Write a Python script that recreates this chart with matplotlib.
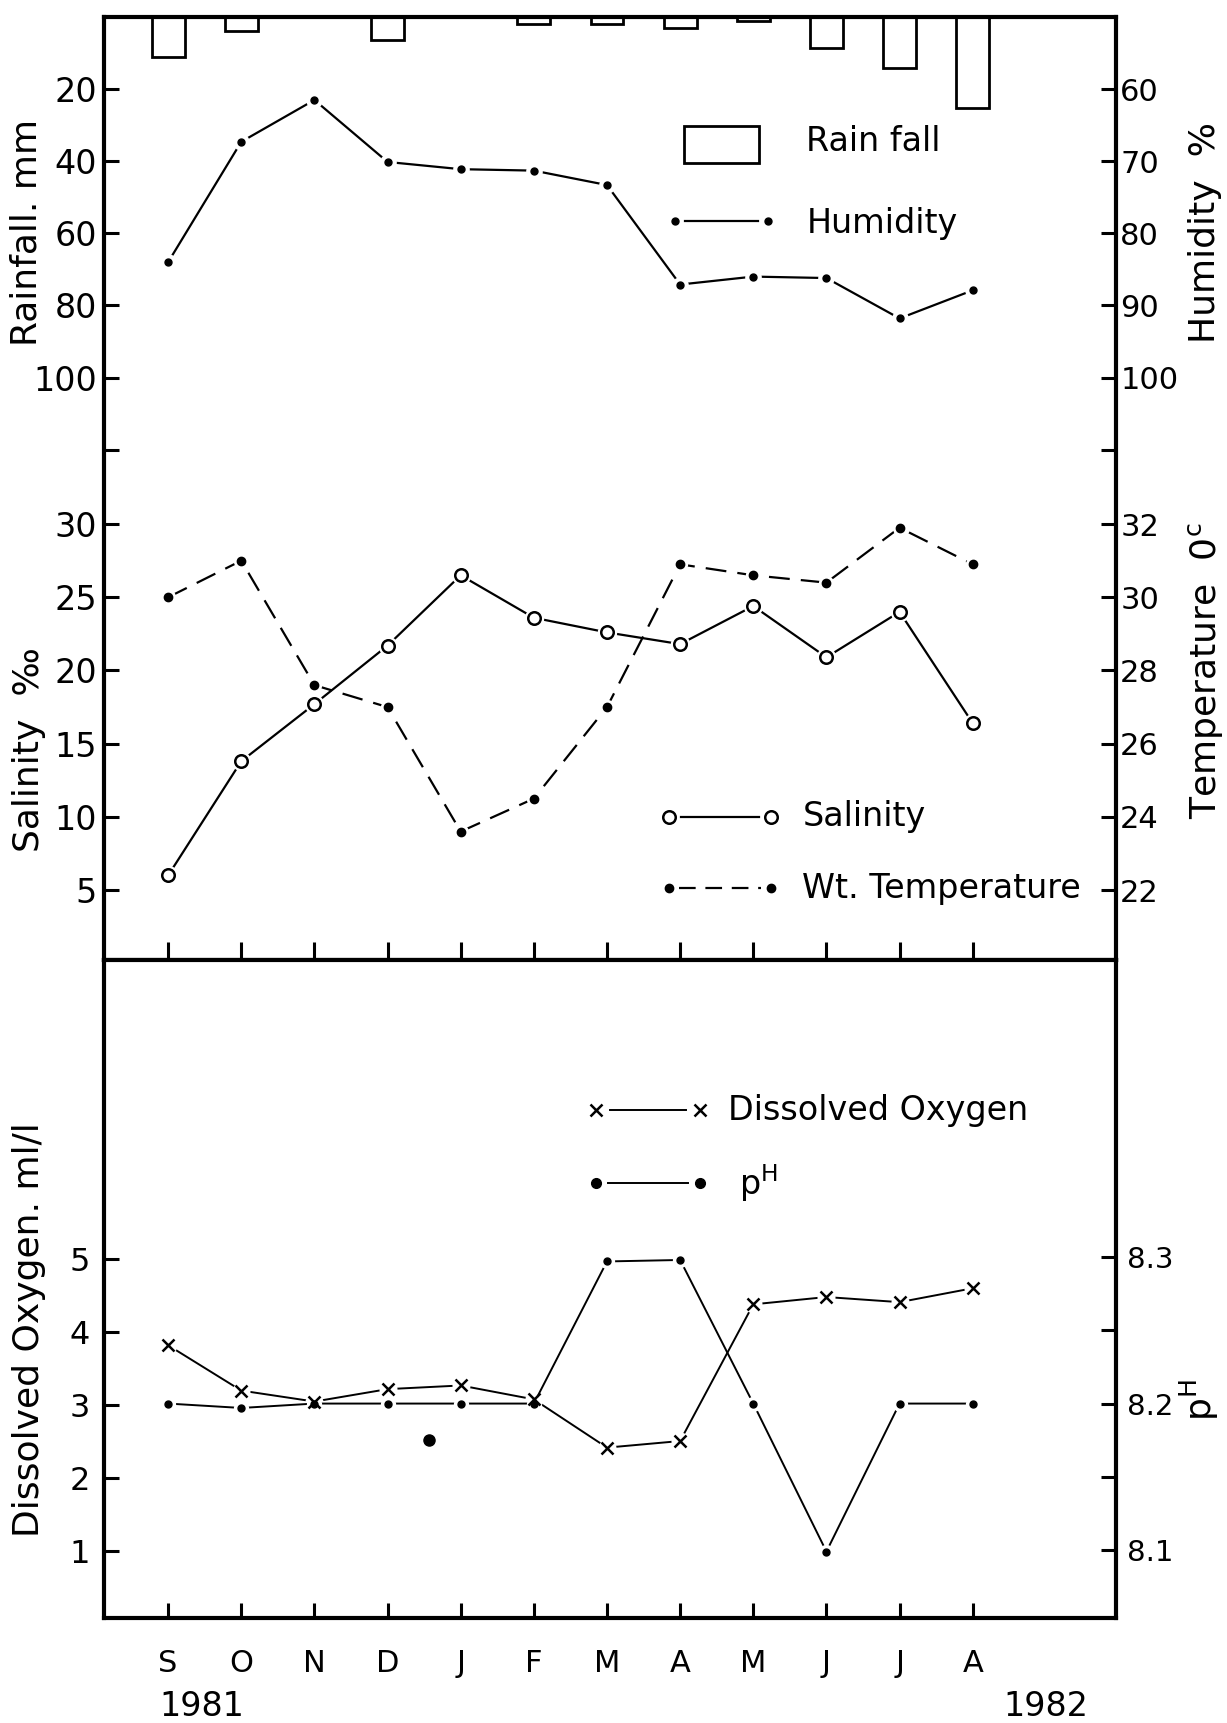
import matplotlib
matplotlib.use("Agg")
import matplotlib.pyplot as plt
import matplotlib.transforms as mtransforms
from matplotlib.patches import Rectangle
import numpy as np

plt.rcParams['font.family'] = ['DejaVu Sans']
plt.rcParams['mathtext.default'] = 'regular'
plt.rcParams['lines.scale_dashes'] = False

# monthly values, Sep 1981 - Aug 1982
months = ['S', 'O', 'N', 'D', 'J', 'F', 'M', 'A', 'M', 'J', 'J', 'A']
rainfall = [11, 4, 0, 6.3, 0, 2, 2, 3, 1, 8.7, 14.2, 25.2]
humidity = [84, 67.3, 61.5, 70.1, 71.1, 71.3, 73.3, 87.1, 86, 86.2, 91.8, 87.9]
salinity = [6, 13.8, 17.7, 21.7, 26.5, 23.6, 22.6, 21.8, 24.4, 20.9, 24, 16.4]
temperature = [30.0, 31.0, 27.6, 27.0, 23.6, 24.5, 27.0, 30.9, 30.6, 30.4, 31.9, 30.9]
oxygen = [3.82, 3.2, 3.05, 3.22, 3.27, 3.08, 2.42, 2.51, 4.38, 4.48, 4.41, 4.6]
ph = [8.2, 8.197, 8.2, 8.2, 8.2, 8.2, 8.297, 8.298, 8.2, 8.099, 8.2, 8.2]
ph_extra_x = [3.57]
ph_extra = [8.175]

rain_ticks = [20, 40, 60, 80, 100, 120]
rain_labels = ['20', '40', '60', '80', '100', '']
hum_ticks = [60, 70, 80, 90, 100, 110]
hum_labels = ['60', '70', '80', '90', '100', '']
sal_ticks = [5, 10, 15, 20, 25, 30]
temp_ticks = [22, 24, 26, 28, 30, 32]
do_ticks = [1, 2, 3, 4, 5]
ph_ticks = [8.1, 8.15, 8.2, 8.25, 8.3]
ph_labels = ['8.1', '', '8.2', '', '8.3']

x = np.arange(len(months))
SPINE = 3
YTICK = dict(direction='in', length=11, width=2.2)


def hide_spines(ax):
    for s in ax.spines.values():
        s.set_visible(False)


def gapped(ax, xs, ys, halo, **kw):
    # line with small breaks around each point, like the hand-drawn original
    ax.plot(xs, ys, color='k', zorder=2, **kw)
    ax.plot(xs, ys, 'o', color='white', ms=halo, mec='none', zorder=3)


def place_label(ax, text, xpos, ypos):
    ax.set_ylabel(text, fontsize=26, rotation=90, va='center', ha='center')
    ax.yaxis.set_label_coords(xpos, ypos)


fig = plt.figure(figsize=(12.27, 17.23), dpi=100)
ax_rain = fig.add_axes([0.0848, 0.4428, 0.8248, 0.5473])
ax_do = fig.add_axes([0.0848, 0.0609, 0.8248, 0.3819])

# ---------- upper panel: rainfall / humidity / salinity / temperature ----------
ax_rain.bar(x, rainfall, width=0.45, facecolor='white', edgecolor='k', lw=2, zorder=2)
ax_rain.set_xlim(-0.876, 12.96)
ax_rain.set_ylim(261.6, 0)
ax_rain.set_yticks(rain_ticks)
ax_rain.set_yticklabels(rain_labels)
ax_rain.tick_params(axis='y', labelsize=24, pad=5, **YTICK)
ax_rain.set_xticks(x)
ax_rain.tick_params(axis='x', direction='in', length=13, width=2.2, labelbottom=False)
for s in ax_rain.spines.values():
    s.set_linewidth(SPINE)
place_label(ax_rain, 'Rainfall. mm', -0.077, 0.772)

ax_hum = ax_rain.twinx()
hide_spines(ax_hum)
ax_hum.set_ylim(180.8, 50)
ax_hum.set_yticks(hum_ticks)
ax_hum.set_yticklabels(hum_labels)
ax_hum.tick_params(axis='y', labelsize=22, pad=3, **YTICK)
gapped(ax_hum, x, humidity, 12, lw=1.6)
ax_hum.plot(x, humidity, 'o', color='k', ms=5, zorder=4)
place_label(ax_hum, 'Humidity  %', 1.088, 0.772)

ax_sal = ax_rain.twinx()
hide_spines(ax_sal)
ax_sal.yaxis.tick_left()
ax_sal.yaxis.set_label_position('left')
ax_sal.set_ylim(0.22, 64.63)
ax_sal.set_yticks(sal_ticks)
ax_sal.tick_params(axis='y', labelsize=24, pad=5, **YTICK)
gapped(ax_sal, x, salinity, 14, lw=1.6)
ax_sal.plot(x, salinity, 'o', color='k', mfc='white', ms=9, mew=1.8, zorder=4)
place_label(ax_sal, 'Salinity  \u2030', -0.074, 0.223)

ax_temp = ax_rain.twinx()
hide_spines(ax_temp)
ax_temp.set_ylim(20.09, 45.85)
ax_temp.set_yticks(temp_ticks)
ax_temp.tick_params(axis='y', labelsize=22, pad=3, **YTICK)
gapped(ax_temp, x, temperature, 11, lw=1.6, ls=(0, (15, 8)))
ax_temp.plot(x, temperature, 'o', color='k', ms=6, zorder=4)
place_label(ax_temp, 'Temperature  0$^{c}$', 1.088, 0.307)

# legends, upper panel
ta = ax_rain.transAxes
ax_rain.add_patch(Rectangle((0.573, 0.845), 0.074, 0.040, transform=ta,
                            fill=False, lw=2, zorder=5))
ax_rain.text(0.694, 0.868, 'Rain fall', transform=ta, fontsize=24, va='center')
ax_rain.plot([0.574, 0.646], [0.784, 0.784], transform=ta, color='k', lw=1.6)
ax_rain.plot([0.564, 0.656], [0.784, 0.784], 'o', transform=ta, color='k', ms=5)
ax_rain.text(0.694, 0.781, 'Humidity', transform=ta, fontsize=24, va='center')
ax_rain.plot([0.570, 0.647], [0.152, 0.152], transform=ta, color='k', lw=1.6)
ax_rain.plot([0.558, 0.659], [0.152, 0.152], 'o', transform=ta, color='k',
             mfc='white', ms=9, mew=1.8)
ax_rain.text(0.690, 0.152, 'Salinity', transform=ta, fontsize=24, va='center')
ax_rain.plot([0.568, 0.649], [0.076, 0.076], transform=ta, color='k', lw=1.6,
             ls=(0, (12, 7)))
ax_rain.plot([0.558, 0.659], [0.076, 0.076], 'o', transform=ta, color='k', ms=6)
ax_rain.text(0.690, 0.076, 'Wt. Temperature', transform=ta, fontsize=24, va='center')

# ---------- lower panel: dissolved oxygen / pH ----------
ax_do.set_xlim(-0.876, 12.96)
ax_do.set_ylim(0.088, 9.09)
ax_do.set_yticks(do_ticks)
ax_do.tick_params(axis='y', labelsize=23, pad=10, **YTICK)
ax_do.set_xticks(x)
ax_do.set_xticklabels(months)
ax_do.tick_params(axis='x', direction='in', length=11, width=2.2, labelsize=22, pad=22)
for s in ax_do.spines.values():
    s.set_linewidth(SPINE)
gapped(ax_do, x, oxygen, 13, lw=1.4)
place_label(ax_do, 'Dissolved Oxygen. ml/l', -0.074, 0.438)

ax_ph = ax_do.twinx()
hide_spines(ax_ph)
ax_ph.set_ylim(8.0536, 8.5027)
ax_ph.set_yticks(ph_ticks)
ax_ph.set_yticklabels(ph_labels)
ax_ph.tick_params(axis='y', labelsize=21, pad=8, **YTICK)
gapped(ax_ph, x, ph, 11, lw=1.4)
ax_ph.plot(x, ph, 'o', color='k', ms=5, zorder=4)
ax_ph.plot(ph_extra_x, ph_extra, 'o', color='k', ms=8, zorder=4)
place_label(ax_ph, 'p$^{H}$', 1.082, 0.331)

ax_mk = ax_do.twinx()
hide_spines(ax_mk)
ax_mk.set_ylim(ax_do.get_ylim())
ax_mk.set_yticks([])
ax_mk.plot(x, oxygen, 'x', color='k', ms=8, mew=1.8, zorder=4)

tb = ax_do.transAxes
ax_do.plot([0.500, 0.575], [0.772, 0.772], transform=tb, color='k', lw=1.4)
ax_do.plot([0.486, 0.589], [0.772, 0.772], 'x', transform=tb, color='k', ms=8, mew=1.8)
ax_do.text(0.617, 0.772, 'Dissolved Oxygen', transform=tb, fontsize=24, va='center')
ax_do.plot([0.498, 0.577], [0.661, 0.661], transform=tb, color='k', lw=1.4)
ax_do.plot([0.486, 0.589], [0.661, 0.661], 'o', transform=tb, color='k', ms=7)
ax_do.text(0.627, 0.661, 'p$^{H}$', transform=tb, fontsize=24, va='center')

# years under the month axis
tyear = mtransforms.blended_transform_factory(ax_do.transData, ax_do.transAxes)
ax_do.text(0.46, -0.135, '1981', transform=tyear, fontsize=24, ha='center', va='center')
ax_do.text(12.0, -0.135, '1982', transform=tyear, fontsize=24, ha='center', va='center')

fig.savefig('out.png', dpi=100)
